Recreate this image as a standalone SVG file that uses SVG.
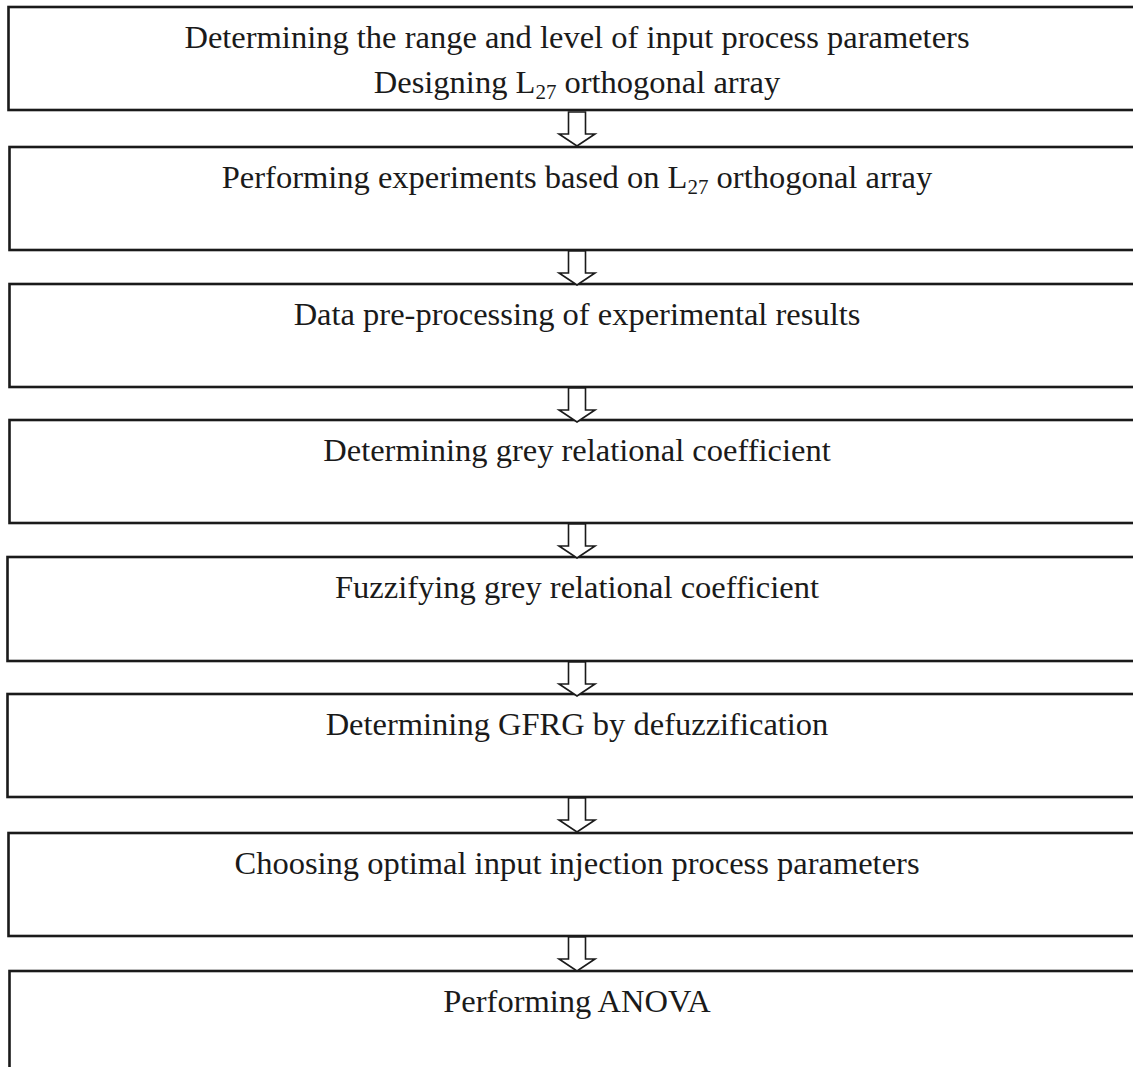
<svg xmlns="http://www.w3.org/2000/svg" width="1133" height="1067" viewBox="0 0 1133 1067">
<style>
.box{fill:#fff;stroke:#1a1a1a;stroke-width:2.6}
.t{font-family:"Liberation Serif","Times New Roman",serif;font-size:32.5px;fill:#1a1a1a;text-anchor:middle}
.sub{font-size:21px}
.arr{fill:#fff;stroke:#1a1a1a;stroke-width:1.6;stroke-linejoin:miter}
</style>
<defs>
<path id="ar" class="arr" d="M-8.5,0 H8.5 V22 H18 L0,34 L-18,22 H-8.5 Z"/>
</defs>
<rect width="1133" height="1067" fill="#fff"/>
<g id="n1"><rect class="box" x="8.5" y="7" width="1140" height="103"/>
<text class="t" x="577" y="48">Determining the range and level of input process parameters</text>
<text class="t" x="577" y="93">Designing L<tspan class="sub" dy="6">27</tspan><tspan dy="-6"> orthogonal array</tspan></text></g>
<g id="n2"><rect class="box" x="9.5" y="147" width="1140" height="103"/>
<text class="t" x="577" y="188">Performing experiments based on L<tspan class="sub" dy="6">27</tspan><tspan dy="-6"> orthogonal array</tspan></text></g>
<g id="n3"><rect class="box" x="9.5" y="284" width="1140" height="103"/>
<text class="t" x="577" y="325">Data pre-processing of experimental results</text></g>
<g id="n4"><rect class="box" x="9.5" y="420" width="1140" height="103"/>
<text class="t" x="577" y="461">Determining grey relational coefficient</text></g>
<g id="n5"><rect class="box" x="7.5" y="557" width="1140" height="104"/>
<text class="t" x="577" y="598">Fuzzifying grey relational coefficient</text></g>
<g id="n6"><rect class="box" x="7.5" y="694" width="1140" height="103"/>
<text class="t" x="577" y="735">Determining GFRG by defuzzification</text></g>
<g id="n7"><rect class="box" x="8.5" y="833" width="1140" height="103"/>
<text class="t" x="577" y="874">Choosing optimal input injection process parameters</text></g>
<g id="n8"><rect class="box" x="9.5" y="971" width="1140" height="120"/>
<text class="t" x="577" y="1012">Performing ANOVA</text></g>
<g id="connectors">
<use href="#ar" x="577" y="112"/>
<use href="#ar" x="577" y="251"/>
<use href="#ar" x="577" y="388"/>
<use href="#ar" x="577" y="524"/>
<use href="#ar" x="577" y="662"/>
<use href="#ar" x="577" y="798"/>
<use href="#ar" x="577" y="937"/>
</g>
</svg>
